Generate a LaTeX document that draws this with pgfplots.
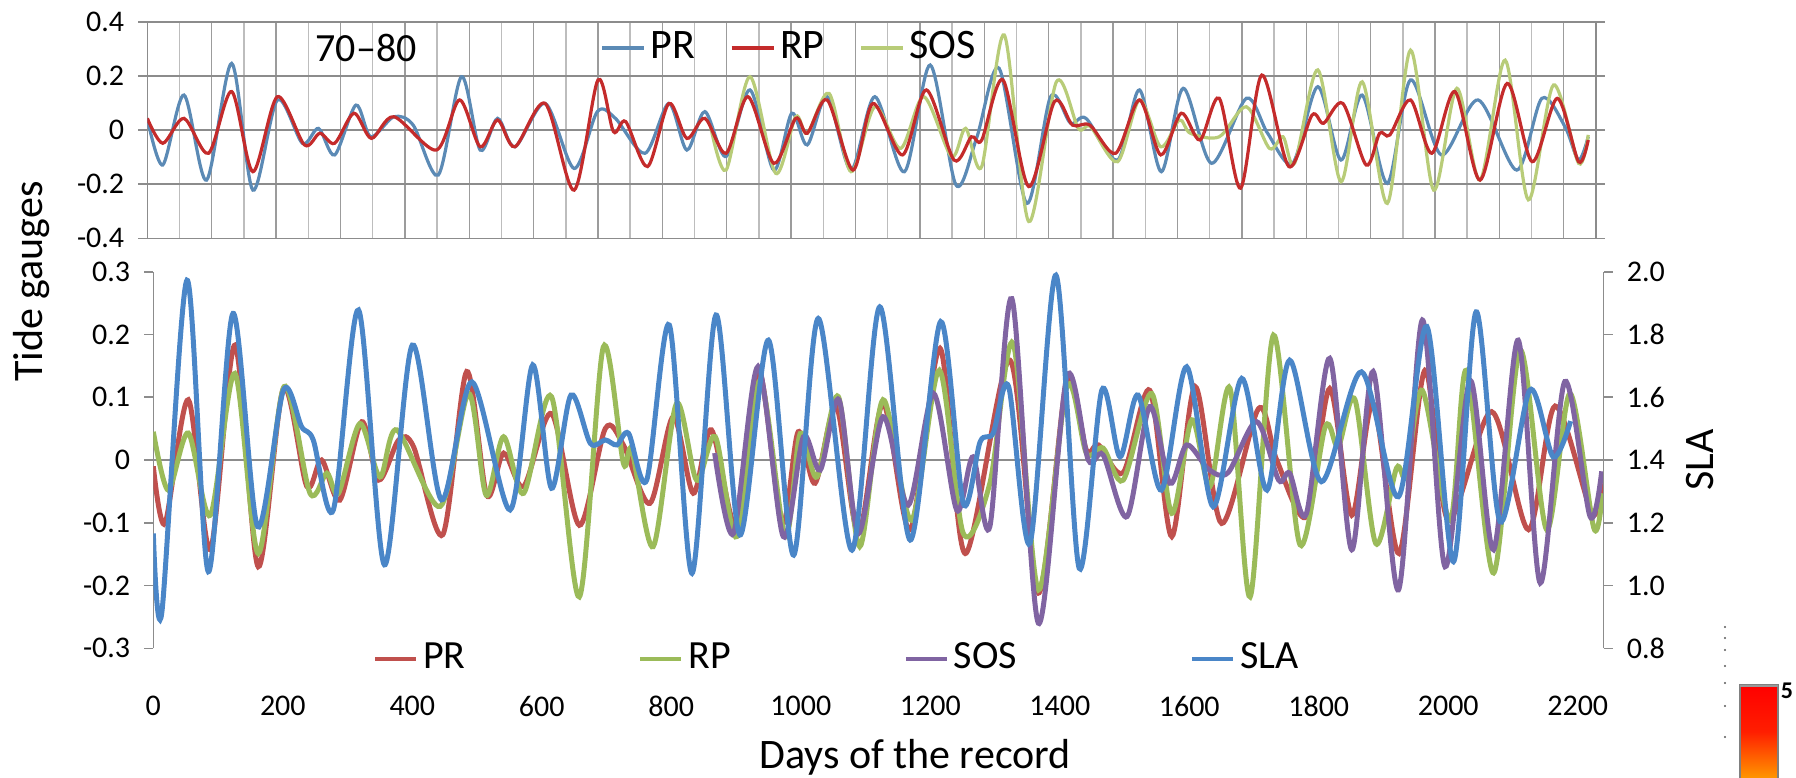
\documentclass[border=0pt]{standalone}
\usepackage{pgfplots}
\pgfplotsset{compat=1.18}
\usepackage{fontspec}
\setmainfont{Carlito}
\definecolor{tPR}{HTML}{5B8AB5}
\definecolor{tRP}{HTML}{C42B2B}
\definecolor{tSOS}{HTML}{B8CC78}
\definecolor{bPR}{HTML}{C0504D}
\definecolor{bRP}{HTML}{9BBB59}
\definecolor{bSOS}{HTML}{8064A2}
\definecolor{bSLA}{HTML}{4A86C8}
\definecolor{axgray}{HTML}{8C8C8C}
\definecolor{gridA}{HTML}{9C9C9C}
\definecolor{gridB}{HTML}{BDBDBD}
\pgfplotsset{
  every axis/.append style={
    /pgf/number format/assume math mode=true,
    /pgf/number format/set thousands separator={},
    tick label style={font=\fontsize{7.5}{9}\selectfont},
  },
}
\begin{document}
\begin{tikzpicture}
\useasboundingbox (0pt,0pt) rectangle (449pt,-194.5pt);
%================ TOP PANEL ================
\begin{axis}[
  at={(36.83pt,-59.58pt)}, anchor=south west,
  scale only axis, width=362.15pt, height=54.15pt,
  xmin=0, xmax=2250, ymin=-0.4, ymax=0.4,
  xtick={0,100,...,2200}, minor xtick={50,150,...,2250}, xticklabels={},
  xmajorgrids, xminorgrids,
  major grid style={color=gridA, line width=0.35pt},
  minor grid style={color=gridB, line width=0.35pt},
  x tick style={draw=none},
  ytick={-0.4,-0.2,0,0.2,0.4},
  yticklabels={-0.4,-0.2,0,0.2,0.4},
  extra y ticks={-0.4,-0.2,0,0.2,0.4}, extra y tick labels={},
  extra y tick style={grid=major, major grid style={color=axgray, line width=0.4pt}},
  y tick style={color=axgray, line width=0.4pt},
  tick align=outside, major tick length=2.25pt,
  axis line style={color=axgray, line width=0.4pt},
  legend columns=3,
  legend style={at={(0.3125,0.8786)}, anchor=west, draw=none, fill=none,
    inner sep=0pt, font=\fontsize{10.5}{12}\selectfont,
    nodes={inner sep=1.2pt},
    /tikz/every even column/.append style={column sep=7.5pt}},
  legend image code/.code={\draw[#1, line width=0.8pt] (0pt,0pt) -- (10.5pt,0pt);},
]
\addplot[tPR, line width=0.8pt, smooth] coordinates {
(0,0.043)(24,-0.129)(57,0.129)(92,-0.185)(131,0.246)(164,-0.222)(202,0.111)(241,-0.049)(266,0.006)(291,-0.092)(324,0.092)(347,-0.025)(383,0.049)(413,0.018)(452,-0.166)(488,0.197)(517,-0.074)(544,0.043)(571,-0.062)(618,0.098)(663,-0.142)(699,0.068)(727,0.043)(773,-0.086)(810,0.098)(838,-0.074)(866,0.068)(899,-0.098)(936,0.148)(973,-0.148)(1001,0.062)(1025,-0.055)(1056,0.123)(1093,-0.148)(1130,0.123)(1176,-0.154)(1216,0.240)(1256,-0.203)(1288,-0.030)(1323,0.228)(1366,-0.271)(1403,0.123)(1434,0.025)(1458,0.043)(1507,-0.111)(1541,0.148)(1575,-0.154)(1609,0.154)(1653,-0.123)(1707,0.117)(1740,-0.012)(1779,-0.123)(1818,0.160)(1854,-0.111)(1887,0.129)(1926,-0.197)(1962,0.185)(2010,-0.092)(2067,0.111)(2127,-0.148)(2166,0.117)(2202,0.012)(2223,-0.111)(2238,-0.025)
};
\addlegendentry{PR}
\addplot[tSOS, line width=0.8pt, smooth, forget plot] coordinates {
(875,0.012)(899,-0.148)(936,0.197)(976,-0.160)(1007,0.049)(1025,-0.012)(1059,0.135)(1093,-0.154)(1130,0.086)(1170,-0.068)(1206,0.123)(1249,-0.098)(1271,0.006)(1296,-0.135)(1331,0.351)(1369,-0.338)(1412,0.178)(1446,0.006)(1465,0.012)(1507,-0.117)(1541,0.111)(1574,-0.062)(1603,0.037)(1620,-0.012)(1665,-0.025)(1707,0.086)(1743,-0.068)(1764,-0.025)(1782,-0.123)(1818,0.222)(1854,-0.191)(1887,0.178)(1926,-0.271)(1962,0.295)(1998,-0.222)(2034,0.154)(2070,-0.185)(2109,0.258)(2145,-0.258)(2184,0.166)(2223,-0.123)(2238,-0.018)
};
\addplot[tRP, line width=0.8pt, smooth] coordinates {
(0,0.043)(24,-0.049)(57,0.043)(95,-0.086)(131,0.142)(164,-0.154)(202,0.123)(244,-0.055)(268,-0.012)(291,-0.049)(321,0.062)(348,-0.031)(383,0.049)(449,-0.074)(485,0.111)(517,-0.062)(544,0.037)(571,-0.062)(618,0.098)(663,-0.222)(700,0.185)(724,-0.006)(743,0.031)(777,-0.135)(810,0.098)(838,-0.031)(866,0.043)(899,-0.086)(933,0.123)(973,-0.123)(1007,0.043)(1025,-0.012)(1056,0.111)(1096,-0.148)(1127,0.098)(1173,-0.092)(1210,0.148)(1253,-0.111)(1280,-0.025)(1296,-0.037)(1329,0.185)(1369,-0.209)(1409,0.105)(1437,0.018)(1464,0.018)(1504,-0.086)(1541,0.111)(1574,-0.092)(1606,0.062)(1635,-0.037)(1665,0.117)(1698,-0.215)(1731,0.203)(1773,-0.135)(1809,0.055)(1827,0.025)(1857,0.098)(1893,-0.129)(1914,-0.012)(1930,-0.018)(1962,0.111)(1995,-0.086)(2031,0.142)(2070,-0.185)(2112,0.172)(2151,-0.117)(2190,0.117)(2223,-0.117)(2238,-0.037)
};
\addlegendentry{RP}
\addlegendimage{tSOS, line width=0.8pt}
\addlegendentry{SOS}
\node[font=\fontsize{10}{12}\selectfont] at (rel axis cs:0.151,0.8786) {70–80};
\end{axis}
%================ BOTTOM PANEL (left axis) ================
\begin{axis}[
  at={(38.33pt,-162.08pt)}, anchor=south west,
  scale only axis, width=362.58pt, height=94.15pt,
  xmin=0, xmax=2240, ymin=-0.3, ymax=0.3,
  axis x line*=bottom, axis y line*=left,
  x axis line style={draw=none},
  xtick={0,200,...,2200}, x tick style={draw=none},
  xticklabel style={anchor=center, yshift=-12.25pt},
  ytick={-0.3,-0.2,-0.1,0,0.1,0.2,0.3},
  yticklabels={-0.3,-0.2,-0.1,0,0.1,0.2,0.3},
  y tick style={color=axgray, line width=0.4pt},
  tick align=outside, major tick length=2.25pt,
  axis line style={color=axgray, line width=0.4pt, -},
  legend columns=4,
  legend style={at={(0.1508,-0.0284)}, anchor=west, draw=none, fill=none,
    inner sep=0pt, font=\fontsize{10}{12}\selectfont,
    nodes={inner sep=1.2pt},
    /tikz/every even column/.append style={column sep=42pt}},
  legend image code/.code={\draw[#1, line width=1.1pt] (0pt,0pt) -- (10.25pt,0pt);},
]
\addplot[axgray, line width=0.4pt, forget plot] coordinates {(0,0) (2240,0)};
\addplot[bPR, line width=1.25pt, smooth] coordinates {
(0,-0.010)(18,-0.101)(54,0.096)(88,-0.143)(126,0.183)(162,-0.170)(201,0.114)(237,-0.042)(260,0.000)(288,-0.064)(322,0.061)(348,-0.032)(379,0.032)(402,0.021)(447,-0.119)(484,0.141)(515,-0.056)(541,0.011)(572,-0.042)(615,0.074)(658,-0.104)(698,0.050)(726,0.024)(767,-0.069)(803,0.069)(834,-0.053)(862,0.048)(901,-0.106)(935,0.143)(971,-0.101)(996,0.045)(1022,-0.037)(1055,0.085)(1089,-0.117)(1127,0.090)(1169,-0.111)(1215,0.178)(1254,-0.149)(1323,0.159)(1367,-0.212)(1411,0.127)(1441,0.016)(1460,0.024)(1498,-0.020)(1539,0.111)(1573,-0.122)(1609,0.117)(1650,-0.101)(1707,0.082)(1735,0.000)(1781,-0.090)(1817,0.114)(1851,-0.088)(1884,0.090)(1924,-0.149)(1964,0.143)(2000,-0.096)(2067,0.077)(2124,-0.111)(2165,0.086)(2222,-0.085)(2238,-0.037)
};
\addlegendentry{PR}
\addplot[bRP, line width=1.25pt, smooth] coordinates {
(0,0.045)(23,-0.048)(54,0.043)(88,-0.088)(126,0.138)(162,-0.149)(202,0.117)(242,-0.053)(268,-0.021)(286,-0.053)(319,0.058)(350,-0.027)(376,0.048)(443,-0.074)(487,0.106)(514,-0.056)(541,0.037)(572,-0.053)(615,0.101)(658,-0.218)(695,0.180)(726,-0.005)(739,0.016)(772,-0.138)(808,0.090)(839,-0.032)(868,0.037)(901,-0.122)(937,0.127)(976,-0.122)(999,0.042)(1025,-0.027)(1058,0.101)(1091,-0.138)(1127,0.096)(1171,-0.096)(1214,0.143)(1251,-0.117)(1292,-0.037)(1328,0.186)(1367,-0.207)(1411,0.117)(1441,0.011)(1467,0.019)(1498,-0.032)(1542,0.106)(1573,-0.085)(1604,0.064)(1632,-0.042)(1663,0.114)(1694,-0.218)(1730,0.199)(1771,-0.135)(1810,0.053)(1830,0.021)(1856,0.096)(1888,-0.133)(1920,-0.013)(1935,-0.025)(1960,0.111)(2003,-0.096)(2028,0.143)(2070,-0.180)(2111,0.175)(2152,-0.111)(2188,0.106)(2225,-0.109)(2238,-0.053)
};
\addlegendentry{RP}
\addplot[bSOS, line width=1.25pt, smooth] coordinates {
(867,0.011)(896,-0.117)(934,0.149)(973,-0.122)(1004,0.037)(1030,-0.016)(1059,0.096)(1089,-0.117)(1127,0.069)(1166,-0.072)(1205,0.106)(1241,-0.080)(1266,0.005)(1292,-0.106)(1326,0.257)(1367,-0.260)(1411,0.133)(1444,0.000)(1467,0.008)(1504,-0.090)(1539,0.085)(1570,-0.037)(1596,0.024)(1630,-0.015)(1660,-0.020)(1704,0.061)(1738,-0.032)(1755,-0.021)(1781,-0.085)(1817,0.162)(1851,-0.143)(1884,0.141)(1923,-0.207)(1960,0.223)(1995,-0.170)(2034,0.127)(2070,-0.143)(2108,0.191)(2142,-0.196)(2180,0.125)(2219,-0.090)(2237,-0.018)
};
\addlegendentry{SOS}
\addlegendimage{bSLA, line width=1.25pt}
\addlegendentry{SLA}
\end{axis}
%================ BOTTOM PANEL (right axis, SLA) ================
\begin{axis}[
  at={(38.33pt,-162.08pt)}, anchor=south west,
  scale only axis, width=362.58pt, height=94.15pt,
  xmin=0, xmax=2240, ymin=0.8, ymax=2.0,
  axis x line=none, axis y line*=right,
  ytick={0.8,1.0,1.2,1.4,1.6,1.8,2.0},
  yticklabels={0.8,1.0,1.2,1.4,1.6,1.8,2.0},
  y tick style={color=axgray, line width=0.4pt},
  tick align=outside, major tick length=2.25pt,
  axis line style={color=axgray, line width=0.4pt, -},
]
\addplot[bSLA, line width=1.25pt, smooth] coordinates {
(0,1.166)(13,0.912)(52,1.973)(85,1.044)(123,1.867)(161,1.188)(201,1.623)(229,1.506)(247,1.464)(278,1.241)(317,1.878)(357,1.066)(400,1.766)(445,1.273)(492,1.649)(551,1.241)(586,1.703)(615,1.310)(645,1.607)(675,1.453)(698,1.464)(716,1.448)(734,1.485)(762,1.336)(797,1.830)(832,1.039)(869,1.862)(906,1.161)(950,1.782)(989,1.097)(1027,1.851)(1079,1.113)(1122,1.888)(1169,1.145)(1216,1.841)(1251,1.262)(1277,1.458)(1297,1.485)(1321,1.634)(1354,1.135)(1394,1.989)(1430,1.055)(1465,1.623)(1493,1.410)(1521,1.607)(1557,1.304)(1596,1.697)(1637,1.251)(1681,1.660)(1720,1.304)(1755,1.718)(1804,1.331)(1866,1.681)(1923,1.283)(1967,1.825)(2008,1.076)(2043,1.872)(2080,1.204)(2126,1.623)(2162,1.410)(2189,1.524)
};
\end{axis}
%================ LABELS ================
\node[rotate=90, font=\fontsize{10.5}{12}\selectfont] at (8pt,-70.4pt) {Tide gauges};
\node[rotate=90, font=\fontsize{10.5}{12}\selectfont] at (425pt,-115pt) {SLA};
\node[font=\fontsize{10.5}{12}\selectfont] at (228.75pt,-189.25pt) {Days of the record};
%================ colour bar fragment ================
\shade[top color=red, bottom color={rgb,255:red,255;green,150;blue,0}, middle color={rgb,255:red,255;green,30;blue,0}]
  (435pt,-171.25pt) rectangle (444.5pt,-194.5pt);
\draw[gray, line width=0.3pt] (435pt,-194.5pt) -- (435pt,-171.25pt) -- (444.5pt,-171.25pt) -- (444.5pt,-194.5pt);
\draw[gray!80, line width=0.6pt] (435pt,-171.5pt) -- (444.5pt,-171.5pt);
\node[font=\bfseries\fontsize{6}{7}\selectfont, anchor=west, inner sep=0pt] at (445pt,-172.6pt) {5};
\foreach \yy in {156.75,159.5,162.5,166.5,170.75,176.5,184.25}
  \fill[gray!70!black] (431.25pt,-\yy pt) circle (0.3pt);
\end{tikzpicture}
\end{document}
